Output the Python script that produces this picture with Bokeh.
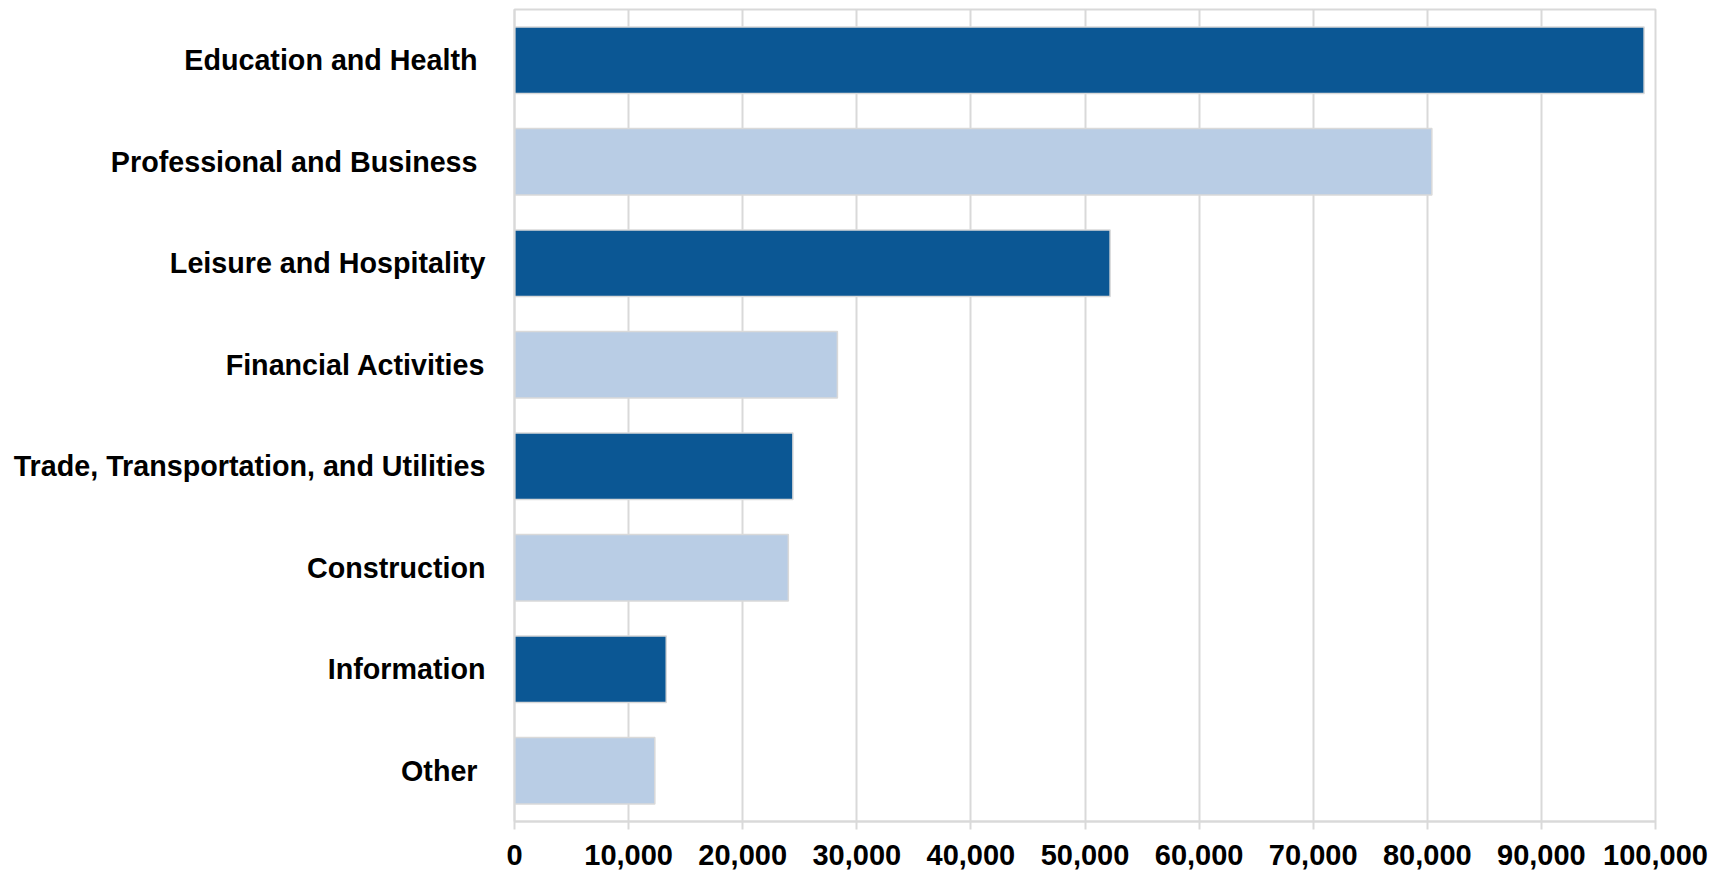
from bokeh.plotting import figure
from bokeh.models import Range1d, FactorRange, NumeralTickFormatter, ColumnDataSource
from bokeh.embed import file_html
from bokeh.resources import INLINE

categories = [
    "Education and Health ",
    "Professional and Business ",
    "Leisure and Hospitality",
    "Financial Activities",
    "Trade, Transportation, and Utilities",
    "Construction",
    "Information",
    "Other ",
]
values = [99000, 80400, 52200, 28300, 24400, 24000, 13300, 12300]
x_ticks = [0, 10000, 20000, 30000, 40000, 50000, 60000, 70000, 80000, 90000, 100000]

DARK = "#0B5794"
LIGHT = "#B9CDE5"
colors = [DARK if i % 2 == 0 else LIGHT for i in range(len(categories))]

src = ColumnDataSource(dict(cat=categories, val=values, color=colors))

p = figure(
    width=1729, height=871,
    y_range=FactorRange(factors=list(reversed(categories))),
    x_range=Range1d(0, 100000),
    output_backend="svg", toolbar_location=None,
    min_border_left=514, min_border_right=74, min_border_top=9, min_border_bottom=50,
)
p.hbar(y="cat", right="val", left=0, height=0.656, source=src,
       fill_color="color", line_color="#d9d9d9", line_width=1.5)

FONT = "Liberation Sans"
GRID = "#d9d9d9"

p.xaxis.ticker = x_ticks
p.xaxis.formatter = NumeralTickFormatter(format="0,0")
p.xaxis.major_label_text_font = FONT
p.xaxis.major_label_text_font_style = "bold"
p.xaxis.major_label_text_font_size = "29px"
p.xaxis.major_label_text_color = "#000000"
p.xaxis.axis_line_color = GRID
p.xaxis.axis_line_width = 2
p.xaxis.major_tick_line_color = GRID
p.xaxis.major_tick_line_width = 2
p.xaxis.major_tick_out = 8
p.xaxis.major_tick_in = 0
p.xaxis.minor_tick_line_color = None
p.xaxis.major_label_standoff = 15

p.yaxis.major_label_text_font = FONT
p.yaxis.major_label_text_font_style = "bold"
p.yaxis.major_label_text_font_size = "28.7px"
p.yaxis.major_label_text_color = "#000000"
p.yaxis.axis_line_color = GRID
p.yaxis.axis_line_width = 2
p.yaxis.major_tick_line_color = None
p.yaxis.major_tick_out = 0
p.yaxis.major_tick_in = 0
p.yaxis.minor_tick_line_color = None
p.yaxis.major_label_standoff = 29

p.xgrid.grid_line_color = GRID
p.xgrid.grid_line_width = 2
p.ygrid.grid_line_color = None

p.outline_line_color = GRID
p.outline_line_width = 2
p.background_fill_color = "white"
p.border_fill_color = "white"

open("out.html", "w").write(file_html(p, INLINE))
